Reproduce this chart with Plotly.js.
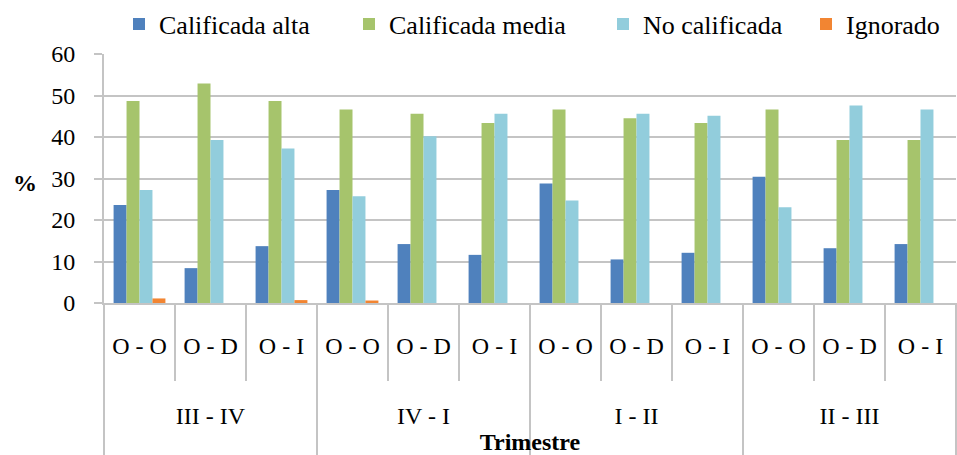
<!DOCTYPE html>
<html>
<head>
<meta charset="utf-8">
<script src="https://cdn.plot.ly/plotly-3.0.1.min.js"></script>
<style>html,body{margin:0;padding:0;background:#fff;}#chart{width:957px;height:455px;}</style>
</head>
<body>
<div id="chart"></div>
<script>
const groups = ['III - IV', 'IV - I', 'I - II', 'II - III'];
const subcats = ['O - O', 'O - D', 'O - I'];
const seriesNames = ['Calificada alta', 'Calificada media', 'No calificada', 'Ignorado'];
const calificadaAlta  = [23.6, 8.4, 13.7, 27.2, 14.2, 11.6, 28.8, 10.5, 12.1, 30.4, 13.2, 14.2];
const calificadaMedia = [48.7, 52.9, 48.7, 46.6, 45.6, 43.4, 46.6, 44.5, 43.4, 46.6, 39.3, 39.3];
const noCalificada    = [27.2, 39.3, 37.2, 25.7, 40.2, 45.6, 24.7, 45.6, 45.1, 23.1, 47.6, 46.6];
const ignorado        = [1.1, 0, 0.7, 0.6, 0, 0, 0, 0, 0, 0, 0, 0];
const yTicks = [0, 10, 20, 30, 40, 50, 60];

const colors = ['#4F81BD', '#A6C46C', '#92CDDC', '#F28532'];
const FONT = 'Liberation Serif';

const outer = [], inner = [];
groups.forEach(g => subcats.forEach(c => { outer.push('<br><br>' + g); inner.push(c); }));

const values = [calificadaAlta, calificadaMedia, noCalificada, ignorado];
const legendIds = ['legend', 'legend2', 'legend3', 'legend4'];
const traces = values.map((v, i) => ({
  type: 'bar', x: [outer, inner], y: v, name: seriesNames[i],
  marker: {color: colors[i]}, legend: legendIds[i], hoverinfo: 'skip'
}));

const W = 852, H = 249; // plot size in px
const legX = [119, 349, 603, 806].map(px => (px - 104) / W);

const shapes = [0, 0.25, 0.5, 0.75, 1].map(px => ({
  type: 'line', xref: 'paper', yref: 'paper', x0: px, x1: px, y0: 0, y1: -(455 - 303) / H,
  line: {color: '#C4C4C4', width: 2}
}));

const layout = {
  width: 957, height: 455,
  margin: {l: 104, r: 1, t: 54, b: 152},
  paper_bgcolor: '#fff', plot_bgcolor: '#fff',
  bargap: 0.27, bargroupgap: 0,
  font: {family: FONT, size: 24, color: '#000'},
  xaxis: {
    type: 'multicategory', showline: true, linecolor: '#C4C4C4', linewidth: 2,
    ticks: 'outside', tickson: 'boundaries', ticklen: 76, tickcolor: '#C4C4C4', tickwidth: 2,
    ticklabelstandoff: 20,
    showdividers: true, dividercolor: '#C4C4C4', dividerwidth: 2,
    tickfont: {family: FONT, size: 24, color: '#000'},
    title: {text: '<b>Trimestre</b>', font: {family: FONT, size: 24, color: '#000'}, standoff: 5}
  },
  yaxis: {
    range: [0, 60], tickvals: yTicks, showgrid: true, gridcolor: '#C4C4C4', gridwidth: 2,
    showline: true, linecolor: '#C4C4C4', linewidth: 2, zeroline: false,
    ticks: 'outside', ticklen: 8, tickcolor: '#C4C4C4', tickwidth: 2, ticklabelstandoff: 14,
    tickfont: {family: FONT, size: 24, color: '#000'}
  },
  shapes: shapes,
  annotations: [{
    text: '<b>%</b>', xref: 'paper', yref: 'paper', x: (25 - 104) / W, y: (303 - 183) / H,
    xanchor: 'center', yanchor: 'middle',
    showarrow: false, font: {family: FONT, size: 24, color: '#000'}
  }],
  showlegend: true
};
legendIds.forEach((id, i) => {
  layout[id] = {orientation: 'h', yref: 'container', y: 1 - 24 / 455, yanchor: 'middle',
    xanchor: 'left', x: legX[i], bgcolor: 'rgba(0,0,0,0)', itemwidth: 30,
    font: {family: FONT, size: 26, color: '#000'}};
});

Plotly.newPlot('chart', traces, layout, {displayModeBar: false, staticPlot: true});
</script>
</body>
</html>
